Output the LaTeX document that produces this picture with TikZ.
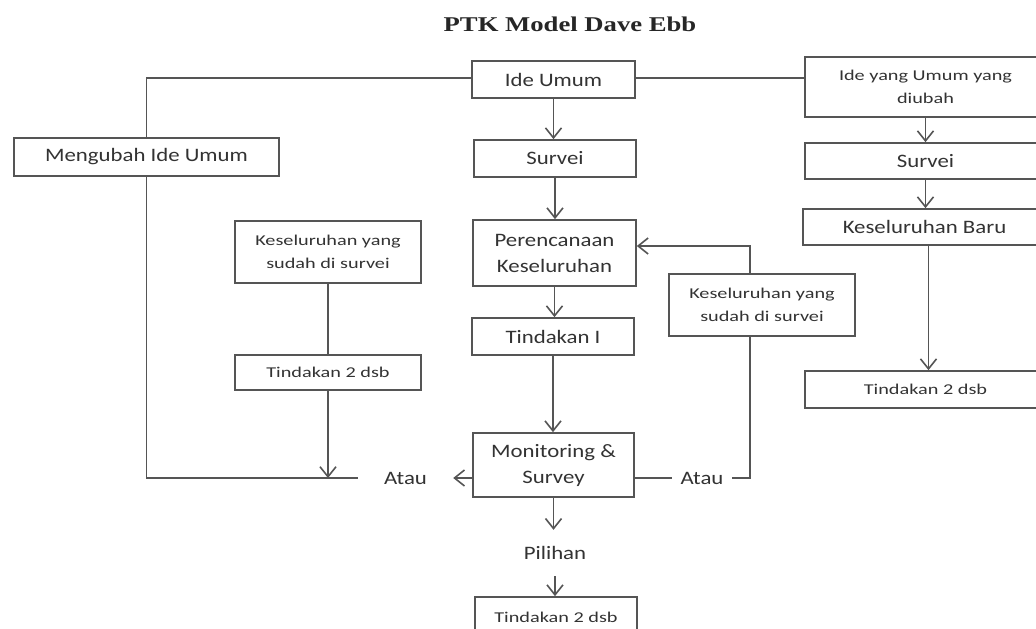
\documentclass[tikz,border=0pt]{standalone}
\usepackage{fontspec}
\setmainfont{Carlito}[FakeStretch=1.2]
\newfontfamily\smallf{Carlito}[FakeStretch=1.35]
\newfontfamily\titlef{Liberation Serif}[FakeStretch=1.27]
\usetikzlibrary{arrows.meta}
\definecolor{ln}{HTML}{555555}
\definecolor{tx}{HTML}{333333}
\tikzset{
  box/.style={draw=ln, line width=1.7pt, inner sep=0pt, align=center, text=tx,
    font=\fontsize{19}{26}\selectfont},
  sbox/.style={box, font=\smallf\fontsize{15}{23}\selectfont},
  lbl/.style={inner sep=0pt, text=tx, font=\fontsize{19}{26}\selectfont},
  conn/.style={draw=ln, line width=1.7pt},
  arr/.style={conn, -{Straight Barb[length=10pt,width=16pt,line width=1.6pt]}}
}
\begin{document}
\begin{tikzpicture}[x=1pt,y=-1pt]
\useasboundingbox (0,0) rectangle (1036,629);
\clip (0,0) rectangle (1036,629);
\fill[white] (0,0) rectangle (1036,629);
% title
\node[inner sep=0pt, text=black!85, font=\titlef\bfseries\fontsize{21}{24}\selectfont] (title) at (570,24) {PTK Model Dave Ebb};
% centre column
\node[box, minimum width=163pt, minimum height=37pt] (ide) at (553.5,79.5) {Ide Umum};
\node[box, minimum width=162pt, minimum height=37pt] (survei) at (555,158.5) {Survei};
\node[box, minimum width=163pt, minimum height=66pt] (pere) at (554.5,253) {Perencanaan\\Keseluruhan};
\node[box, minimum width=162pt, minimum height=37pt] (tind1) at (553,336.5) {Tindakan I};
\node[box, minimum width=161pt, minimum height=64pt] (mon) at (553.5,465) {Monitoring \&\\Survey};
\node[lbl, minimum height=46pt] (pilihan) at (555,553) {Pilihan};
\node[sbox, minimum width=162pt, minimum height=40pt] (tind2B) at (556,617) {Tindakan 2 dsb};
% left column
\node[box, minimum width=265pt, minimum height=38pt] (mengubah) at (146.5,157) {Mengubah Ide Umum};
\node[sbox, minimum width=186pt, minimum height=62pt] (kes1) at (328,252) {Keseluruhan yang\\sudah di survei};
\node[sbox, minimum width=186pt, minimum height=35pt] (tind2L) at (328,372.5) {Tindakan 2 dsb};
\node[lbl, minimum width=95pt, minimum height=20pt] (atauL) at (405.5,478) {Atau};
% middle right
\node[sbox, minimum width=186pt, minimum height=62pt] (kes2) at (762,305) {Keseluruhan yang\\sudah di survei};
\node[lbl, minimum width=60pt, minimum height=20pt] (atauR) at (702,478) {Atau};
% right column
\node[sbox, minimum width=241pt, minimum height=60pt] (ide2) at (925.5,87) {Ide yang Umum yang\\diubah};
\node[box, minimum width=241pt, minimum height=36pt] (survei2) at (925.5,161) {Survei};
\node[box, minimum width=243pt, minimum height=36pt] (baru) at (924.5,227) {Keseluruhan Baru};
\node[sbox, minimum width=241pt, minimum height=37pt] (tind2R) at (925.5,389.5) {Tindakan 2 dsb};
% connectors centre
\draw[arr] (ide.south) -- (ide.south |- survei.north);
\draw[arr] (survei.south) -- (survei.south |- pere.north);
\draw[arr] (pere.south) -- (pere.south |- tind1.north);
\draw[arr] (tind1.south) -- (tind1.south |- mon.north);
\draw[arr] (mon.south) -- (mon.south |- pilihan.north);
\draw[arr] (pilihan.south) -- (pilihan.south |- tind2B.north);
% top links
\draw[conn] (ide.west |- 0,78) -| (mengubah.north);
\draw[conn] (ide.east |- 0,78) -- (ide2.west |- 0,78);
% left
\draw[conn] (mengubah.south) |- (atauL.west);
\draw[conn] (kes1.south) -- (tind2L.north);
\draw[arr] (tind2L.south) -- (tind2L.south |- atauL.west);
\draw[arr] (atauL.east -| mon.west) -- (atauL.east);
% right of monitoring
\draw[conn] (atauR.west -| mon.east) -- (atauR.west);
\draw[conn] (atauR.east) -| ([xshift=-12pt]kes2.south);
\draw[arr] ([xshift=-12pt]kes2.north) |- ([yshift=7pt]pere.east);
% right column
\draw[arr] (ide2.south) -- (ide2.south |- survei2.north);
\draw[arr] (survei2.south) -- (survei2.south |- baru.north);
\draw[arr] ([xshift=4pt]baru.south) -- ([xshift=4pt]baru.south |- tind2R.north);
\end{tikzpicture}
\end{document}
